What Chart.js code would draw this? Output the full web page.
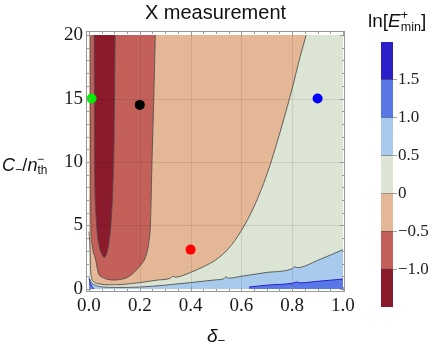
<!DOCTYPE html>
<html lang="en">
<head>
<meta charset="UTF-8">
<title>X measurement</title>
<script src="https://cdn.jsdelivr.net/npm/chart.js@4"></script>
<style>
  body { margin: 0; background: #fff; }
  #wrap { position: relative; width: 447px; height: 346px; overflow: hidden; font-family: 'Liberation Sans', Arial, sans-serif; color: #111; }
  #main { position: absolute; left: 0; top: 0; }
  #bar { position: absolute; left: 376px; top: 0; }
  .lbl { position: absolute; white-space: nowrap; line-height: 1; }
  .lbl sub { font-size: 0.7em; vertical-align: -0.25em; }
  .ss { display: inline-block; vertical-align: -0.3em; font-size: 0.66em; line-height: 0.95; text-align: left; font-style: normal; }
  .ss span { display: block; }
</style>
</head>
<body>
<div id="wrap">
  <canvas id="main" width="447" height="346"></canvas>
  <canvas id="bar" width="71" height="346"></canvas>
  <div class="lbl" style="left:2px; top:154px; font-size:18px;"><i>C</i><sub>−</sub>/<i>n</i><span class="ss"><span>−</span><span>th</span></span></div>
  <div class="lbl" style="left:207px; top:326px; font-size:19px;"><i>δ</i><sub>−</sub></div>
  <div class="lbl" style="left:368px; top:10px; font-size:19px;">ln[<i>E</i><span class="ss"><span>+</span><span>min</span></span>]</div>
</div>

<script>
  // contour boundaries: x = delta_-, y = C_-/n_th^-
  // ln E = 0 line (peach above / left, green below / right)
  const peachX = [0, 0.004, 0.006, 0.01, 0.02, 0.04, 0.08, 0.13, 0.2, 0.27, 0.32, 0.33, 0.34, 0.4, 0.45, 0.5, 0.55, 0.6, 0.65, 0.7, 0.75, 0.8, 0.83, 0.855];
  const peachY = [4.5, 3.2, 1.6, 0.9, 0.55, 0.4, 0.33, 0.35, 0.5, 0.7, 0.85, 1.0, 0.93, 1.3, 1.75, 2.3, 3.2, 4.6, 6.5, 9.0, 12.2, 15.8, 18.2, 20];
  // ln E = -0.5 line
  const redX = [0.005, 0.007, 0.011, 0.017, 0.024, 0.037, 0.055, 0.075, 0.096, 0.12, 0.15, 0.175, 0.2, 0.222, 0.235, 0.242, 0.248, 0.255, 0.261];
  const redY = [20, 5, 3.6, 2.9, 2.5, 1.26, 0.9, 0.75, 0.7, 0.74, 0.9, 1.26, 1.8, 2.5, 3.6, 5.2, 10, 15, 20];
  // ln E = -1.0 line
  const darkX = [0.02, 0.022, 0.026, 0.032, 0.04, 0.049, 0.06, 0.071, 0.079, 0.086, 0.094, 0.099, 0.103];
  const darkY = [20, 10, 6.5, 4.5, 3.4, 2.8, 2.5, 2.9, 3.7, 5, 8, 12, 20];
  // ln E = 0.5 line (light blue below)
  const lblueX = [0, 0.01, 0.03, 0.06, 0.1, 0.2, 0.3, 0.4, 0.5, 0.53, 0.54, 0.55, 0.6, 0.7, 0.8, 0.81, 0.82, 0.9, 1.0];
  const lblueY = [0.9, 0.5, 0.25, 0.15, 0.12, 0.15, 0.3, 0.5, 0.72, 0.8, 0.95, 0.85, 1.0, 1.3, 1.6, 1.75, 1.68, 2.25, 3.1];
  // ln E = 1.0 line (medium blue below)
  const mblueX = [0.63, 0.7, 0.8, 0.82, 0.83, 0.9, 1.0];
  const mblueY = [0.15, 0.3, 0.45, 0.55, 0.48, 0.6, 0.78];
  const cornerX = [0, 0.005, 0.012, 0.02];
  const cornerY = [0.8, 0.5, 0.2, 0.0];

  // marked points
  const dotX = [0.01, 0.2, 0.4, 0.9];
  const dotY = [15, 14.5, 3.1, 15];
  const dotColors = ['#00ee00', '#000000', '#ff0000', '#0000ff'];

  const xTicks = [0, 0.2, 0.4, 0.6, 0.8, 1.0];
  const yTicks = [0, 5, 10, 15, 20];

  // colour bar
  const cbLo = [-1.5, -1.0, -0.5, 0, 0.5, 1.0, 1.5];
  const cbHi = [-1.0, -0.5, 0, 0.5, 1.0, 1.5, 2.0];
  const cbColors = ['#8a1a2c', '#c4605a', '#e4b896', '#dce4d4', '#a8caec', '#5878e8', '#2a1fc8'];
  const cbTicks = [-1.0, -0.5, 0, 0.5, 1.0, 1.5];
  const cbTickLabels = ['−1.0', '−0.5', '0', '0.5', '1.0', '1.5'];

  const xy = (xs, ys) => xs.map((x, i) => ({ x, y: ys[i] }));
  const lineCol = 'rgba(75,75,75,0.85)';

  function region(xs, ys, color, edge, to, order) {
    return {
      type: 'line', data: xy(xs, ys), backgroundColor: color, borderColor: edge,
      borderWidth: edge ? 1 : 0, fill: { value: to }, pointRadius: 0,
      cubicInterpolationMode: 'monotone', order
    };
  }

  Chart.defaults.font.family = "'Liberation Serif', 'Times New Roman', serif";
  Chart.defaults.color = '#1a1a1a';

  const datasets = [
    region([0, 1], [20, 20], cbColors[3], null, 0, 10),
    region(lblueX, lblueY, cbColors[4], lineCol, 0, 9),
    region(mblueX, mblueY, cbColors[5], '#2a1fc8', 0, 8),
    region(cornerX, cornerY, cbColors[5], '#2a1fc8', 0, 8),
    region(peachX, peachY, cbColors[2], lineCol, 20, 7),
    region(redX, redY, cbColors[1], lineCol, 20, 6),
    region(darkX, darkY, cbColors[0], lineCol, 20, 5),
    {
      type: 'line', data: xy(dotX, dotY), showLine: false, pointRadius: 5,
      pointBorderWidth: 0, pointBackgroundColor: dotColors, order: 0
    }
  ];
  const dotIndex = datasets.length - 1;

  const framePlugin = {
    id: 'frame',
    beforeDatasetDraw(chart, args) {
      if (args.index !== dotIndex) return;
      const { ctx, chartArea: a, scales: { x, y } } = chart;
      ctx.save();
      ctx.strokeStyle = 'rgba(0,0,0,0.09)';
      ctx.lineWidth = 1;
      xTicks.slice(1, -1).forEach(v => {
        const p = Math.round(x.getPixelForValue(v)) + 0.5;
        ctx.beginPath(); ctx.moveTo(p, a.top); ctx.lineTo(p, a.bottom); ctx.stroke();
      });
      yTicks.slice(1, -1).forEach(v => {
        const p = Math.round(y.getPixelForValue(v)) + 0.5;
        ctx.beginPath(); ctx.moveTo(a.left, p); ctx.lineTo(a.right, p); ctx.stroke();
      });
      ctx.restore();
    },
    afterDraw(chart) {
      const { ctx, chartArea: a, scales: { x, y } } = chart;
      ctx.save();
      ctx.strokeStyle = '#999';
      ctx.lineWidth = 1;
      ctx.strokeRect(a.left + 0.5, a.top + 0.5, a.right - a.left - 1, a.bottom - a.top - 1);
      const tick = (x1, y1, x2, y2) => { ctx.beginPath(); ctx.moveTo(x1, y1); ctx.lineTo(x2, y2); ctx.stroke(); };
      for (let i = 0; i <= 20; i++) {
        const len = i % 4 === 0 ? 5 : 3;
        const p = Math.round(x.getPixelForValue(i * 0.05)) + 0.5;
        tick(p, a.bottom, p, a.bottom - len);
        tick(p, a.top, p, a.top + len);
      }
      for (let i = 0; i <= 20; i++) {
        const len = i % 5 === 0 ? 5 : 3;
        const p = Math.round(y.getPixelForValue(i)) + 0.5;
        tick(a.left, p, a.left + len, p);
        tick(a.right, p, a.right - len, p);
      }
      ctx.restore();
    }
  };

  new Chart(document.getElementById('main'), {
    type: 'line',
    data: { datasets },
    options: {
      responsive: false, animation: false,
      layout: { padding: { left: 56, right: 102, top: 0, bottom: 0 } },
      plugins: {
        legend: { display: false }, tooltip: { enabled: false },
        title: {
          display: true, text: 'X measurement', fullSize: false, color: '#111',
          font: { family: "'Liberation Sans', Arial, sans-serif", size: 20, weight: 'normal' },
          padding: { top: 1, bottom: 6 }
        }
      },
      scales: {
        x: {
          type: 'linear', min: -0.0118, max: 1.0079,
          afterBuildTicks: s => { s.ticks = xTicks.map(v => ({ value: v })); },
          afterFit: s => { s.height = 54; },
          ticks: { callback: v => v.toFixed(1), font: { size: 19 }, padding: 3, maxRotation: 0, autoSkip: false },
          grid: { display: false, drawTicks: false }, border: { display: false }
        },
        y: {
          type: 'linear', min: -0.24, max: 20.32,
          afterBuildTicks: s => { s.ticks = yTicks.map(v => ({ value: v })); },
          afterFit: s => { s.width = 30; },
          ticks: { callback: v => String(v), font: { size: 19 }, padding: 3, autoSkip: false },
          grid: { display: false, drawTicks: false }, border: { display: false }
        }
      }
    },
    plugins: [framePlugin]
  });

  new Chart(document.getElementById('bar'), {
    type: 'bar',
    data: {
      labels: [''],
      datasets: cbLo.map((lo, i) => ({
        data: [[lo, cbHi[i]]], backgroundColor: cbColors[i], borderWidth: 0,
        barPercentage: 1, categoryPercentage: 1
      }))
    },
    options: {
      responsive: false, animation: false,
      layout: { padding: { left: 5, right: 14, top: 42, bottom: 39 } },
      plugins: { legend: { display: false }, tooltip: { enabled: false } },
      scales: {
        x: { stacked: true, display: false },
        y: {
          stacked: false, position: 'right', min: -1.5, max: 2.0,
          afterBuildTicks: s => { s.ticks = cbTicks.map(v => ({ value: v })); },
          afterFit: s => { s.width = 40; },
          ticks: { callback: (v, i) => cbTickLabels[i], font: { size: 17 }, padding: 1, color: '#222' },
          grid: { color: 'rgba(70,70,70,0.5)', tickLength: 4, z: 1 },
          border: { display: false }
        }
      }
    }
  });
</script>
</body>
</html>
